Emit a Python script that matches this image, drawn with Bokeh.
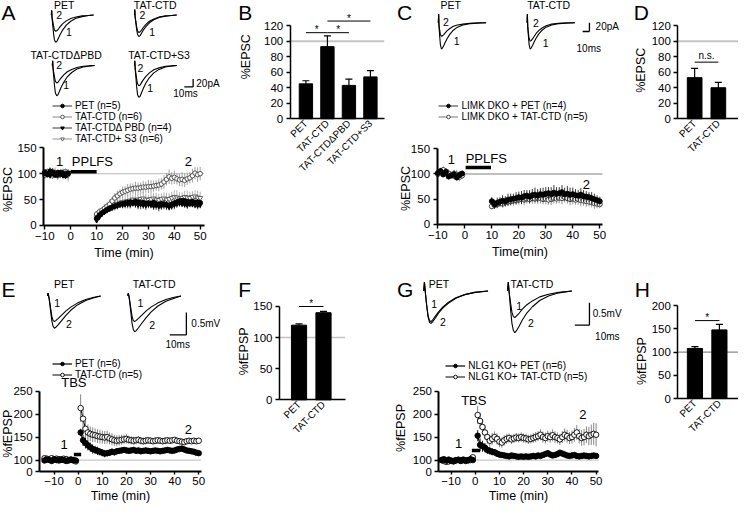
import math
from bokeh.plotting import figure
from bokeh.layouts import row, column
from bokeh.models import (ColumnDataSource, Label, Legend, LegendItem, FixedTicker,
                          Whisker, TeeHead, Range1d, AllLabels)
from bokeh.transform import dodge
from bokeh.embed import file_html
from bokeh.resources import INLINE

FONT = "Liberation Sans"

# ============================ DATA ============================
SCALE_MS = 10
SCALE_PA = 20
SCALE_MV = 0.5

# --- A: EPSC traces (ms, pA)
T_A = [0, 0.4, 0.8, 1.5, 2.5, 3.5, 5, 6.5, 8, 10, 13, 17, 22, 28, 35, 42, 48]
A_PET_1 = [0, 12, -8, -24, -47, -64, -70, -67, -60, -50, -38, -26, -16, -8, -4, -1, 0]
A_PET_2 = [0, 12, -6, -15, -28, -38, -42, -40, -36, -30, -22, -15, -9, -5, -2, -1, 0]
A_TAT_1 = [0, 14, -6, -19, -37, -50, -55, -53, -47, -39, -30, -20, -12, -6, -3, -1, 0]
A_TAT_2 = [0, 14, -5, -15, -30, -41, -45, -43, -39, -32, -24, -16, -10, -5, -2, -1, 0]
A_DPBD_1 = [0, 12, -8, -26, -52, -71, -78, -75, -67, -56, -43, -29, -18, -9, -4, -1, 0]
A_DPBD_2 = [0, 12, -6, -16, -30, -41, -45, -43, -38, -32, -24, -16, -10, -5, -2, -1, 0]
A_S3_1 = [0, 12, -8, -27, -55, -75, -82, -79, -70, -59, -45, -31, -19, -10, -4, -1, 0]
A_S3_2 = [0, 12, -6, -18, -35, -47, -52, -50, -44, -37, -28, -19, -11, -6, -2, -1, 0]

# --- A: time course (%EPSC)
tA_base = list(range(-10, 0))
tA_post = list(range(10, 51))
A_PET_base = [103, 98, 105, 100, 97, 102, 99, 101, 96, 100]
A_PET_base_e = [6, 4, 7, 5, 4, 6, 5, 4, 6, 5]
A_TAT_base = [97, 104, 99, 103, 101, 96, 102, 98, 104, 99]
A_TAT_base_e = [8, 6, 9, 7, 6, 8, 7, 9, 6, 10]
A_DPBD_base = [101, 99, 97, 104, 100, 98, 103, 97, 100, 102]
A_DPBD_base_e = [5, 6, 4, 7, 5, 6, 4, 5, 6, 4]
A_S3_base = [99, 102, 100, 96, 103, 101, 98, 104, 99, 97]
A_S3_base_e = [7, 5, 8, 6, 9, 5, 7, 6, 8, 12]
A_PET_post = [14, 20, 24, 27, 30, 32, 35, 37, 39, 41,
              42, 43, 44, 45, 44, 46, 45, 43, 44, 42,
              43, 42, 44, 41, 40, 42, 41, 40, 39, 41,
              43, 45, 47, 48, 47, 46, 45, 46, 44, 45, 44]
A_PET_post_e = [4, 4, 5, 4, 5, 5, 4, 5, 6, 5, 5, 6, 5, 6, 5, 6, 7, 6, 5, 6,
                6, 5, 6, 7, 6, 5, 6, 7, 6, 5, 6, 5, 6, 5, 6, 5, 4, 5, 6, 5, 4]
A_TAT_post = [22, 26, 29, 33, 37, 41, 47, 53, 57, 61,
              64, 66, 68, 70, 71, 72, 72, 73, 74, 74,
              75, 75, 76, 77, 78, 80, 84, 89, 94, 91,
              93, 90, 88, 89, 87, 90, 92, 96, 101, 98, 100]
A_TAT_post_e = [6, 7, 6, 8, 7, 9, 8, 9, 10, 9, 11, 10, 12, 11, 10, 12, 11, 10, 12, 11,
                13, 12, 11, 10, 12, 11, 13, 12, 14, 12, 13, 11, 12, 14, 13, 12, 11, 13, 12, 14, 13]
A_DPBD_post = [10, 16, 22, 26, 30, 33, 35, 37, 38, 40,
               40, 41, 42, 41, 43, 42, 40, 41, 40, 39,
               41, 40, 38, 39, 37, 38, 40, 38, 36, 38,
               40, 42, 43, 42, 41, 40, 42, 41, 40, 39, 40]
A_DPBD_post_e = [5, 6, 5, 6, 7, 6, 7, 8, 7, 6, 7, 8, 9, 8, 7, 8, 9, 10, 8, 9,
                 8, 7, 8, 9, 10, 8, 9, 8, 7, 8, 9, 8, 7, 6, 7, 8, 7, 6, 7, 8, 7]
A_S3_post = [18, 22, 26, 29, 32, 35, 38, 40, 42, 44,
             45, 46, 47, 48, 50, 49, 50, 51, 52, 50,
             49, 51, 52, 50, 49, 51, 52, 50, 51, 53,
             55, 54, 52, 53, 55, 54, 53, 55, 56, 54, 53]
A_S3_post_e = [6, 7, 8, 7, 8, 9, 10, 9, 8, 10, 11, 10, 12, 11, 10, 12, 11, 13, 12, 11,
               10, 12, 11, 13, 12, 11, 12, 13, 11, 12, 13, 14, 12, 11, 12, 13, 12, 11, 12, 13, 12]

# --- B: bars (%EPSC)
B_cats = ["PET", "TAT-CTD", "TAT-CTDΔPBD", "TAT-CTD+S3"]
B_mean = [45, 93, 43, 54]
B_err = [4, 14, 8, 8]

# --- C: EPSC traces (ms, pA)
T_C = [0, 0.5, 1, 2, 3, 4.5, 6, 8, 10, 13, 17, 22, 28, 36, 46, 58, 70]
C_PET_1 = [0, 20, -10, -30, -50, -60, -58, -52, -45, -36, -26, -17, -10, -5, -2, -1, 0]
C_PET_2 = [0, 20, -6, -17, -27, -31, -30, -27, -23, -18, -13, -8, -5, -3, -1, 0, 0]
C_TAT_1 = [0, 20, -10, -30, -50, -60, -58, -52, -45, -36, -26, -17, -10, -5, -2, -1, 0]
C_TAT_2 = [0, 20, -8, -23, -36, -42, -41, -37, -32, -25, -18, -12, -7, -3, -1, 0, 0]

# --- C: time course
tC_base = list(range(-10, 0))
tC_post = list(range(10, 51))
C_PET_base = [102, 106, 99, 104, 95, 97, 100, 93, 98, 101]
C_PET_base_e = [5, 6, 4, 7, 6, 5, 8, 6, 7, 5]
C_TAT_base = [100, 103, 108, 105, 101, 98, 96, 99, 94, 97]
C_TAT_base_e = [6, 5, 7, 6, 8, 7, 6, 9, 8, 7]
C_PET_post = [46, 40, 43, 45, 47, 46, 49, 50, 51, 52,
              54, 53, 56, 57, 55, 58, 59, 57, 60, 59,
              61, 62, 60, 63, 61, 62, 64, 60, 61, 59,
              60, 58, 57, 59, 56, 55, 54, 52, 50, 48, 46]
C_PET_post_e = [8, 9, 10, 9, 11, 10, 12, 11, 10, 12, 11, 13, 12, 11, 13, 12, 14, 13, 12, 14,
                13, 12, 14, 15, 13, 12, 14, 13, 15, 14, 13, 12, 11, 13, 12, 11, 10, 12, 11, 10, 9]
C_TAT_post = [36, 38, 40, 42, 41, 44, 45, 46, 47, 48,
              49, 50, 49, 51, 50, 52, 51, 53, 52, 50,
              51, 49, 50, 52, 51, 53, 52, 54, 52, 50,
              51, 49, 50, 48, 47, 46, 45, 44, 42, 41, 40]
C_TAT_post_e = [6, 7, 8, 7, 8, 9, 8, 9, 10, 9, 10, 9, 11, 10, 9, 11, 10, 12, 11, 10,
                11, 10, 12, 11, 10, 11, 12, 10, 11, 12, 11, 10, 11, 12, 10, 11, 9, 10, 11, 9, 8]

# --- D: bars
D_cats = ["PET", "TAT-CTD"]
D_mean = [53, 40]
D_err = [12, 7]

# --- E: fEPSP traces (ms, mV)
T_E = [0, 0.4, 1, 1.8, 2.6, 3.4, 4.2, 5, 6.5, 8.5, 11, 14, 18, 23, 28, 32]
E_PET_1 = [0, 0.06, -0.05, -0.25, -0.45, -0.55, -0.57, -0.55, -0.5, -0.43, -0.34, -0.25, -0.16, -0.08, -0.03, 0]
E_PET_2 = [0, 0.06, -0.06, -0.3, -0.55, -0.68, -0.72, -0.7, -0.64, -0.55, -0.44, -0.32, -0.2, -0.1, -0.04, 0]
E_TAT_1 = [0, 0.06, -0.05, -0.25, -0.45, -0.55, -0.57, -0.55, -0.5, -0.43, -0.34, -0.25, -0.16, -0.08, -0.03, 0]
E_TAT_2 = [0, 0.06, -0.07, -0.33, -0.6, -0.75, -0.8, -0.78, -0.71, -0.61, -0.49, -0.36, -0.23, -0.12, -0.05, 0]

# --- E: time course (%fEPSP)
tE_base = list(range(-14, 0))
tE_post = list(range(1, 51))
E_PET_base = [99, 101, 100, 98, 102, 100, 99, 101, 100, 98, 99, 101, 100, 99]
E_PET_base_e = [2, 3, 2, 3, 2, 2, 3, 2, 3, 2, 2, 3, 2, 2]
E_TAT_base = [104, 103, 102, 104, 101, 103, 102, 101, 103, 102, 100, 101, 99, 97]
E_TAT_base_e = [3, 4, 3, 3, 4, 3, 3, 4, 3, 3, 4, 3, 3, 4]
E_PET_post = [160, 143, 137, 132, 128, 124, 122, 120, 118, 116,
              114, 115, 116, 118, 117, 119, 120, 121, 122, 121,
              120, 121, 122, 120, 121, 119, 120, 121, 120, 119,
              120, 121, 120, 119, 120, 121, 122, 121, 120, 121,
              123, 124, 125, 123, 121, 120, 119, 118, 116, 115]
E_PET_post_e = [8, 12, 12, 11, 10, 10, 9, 9, 8, 8, 8, 7, 7, 7, 7, 6, 6, 6, 6, 6,
                6, 6, 5, 5, 6, 5, 5, 6, 5, 5, 6, 5, 5, 6, 5, 5, 6, 5, 5, 5,
                6, 5, 5, 6, 5, 5, 5, 5, 5, 5]
E_TAT_post = [213, 190, 168, 160, 157, 155, 154, 152, 151, 150,
              149, 150, 147, 145, 143, 142, 143, 144, 145, 146,
              144, 143, 142, 143, 144, 142, 141, 142, 143, 142,
              141, 142, 143, 142, 141, 142, 143, 142, 143, 144,
              142, 141, 140, 139, 141, 142, 141, 142, 141, 142]
E_TAT_post_e = [30, 22, 18, 17, 16, 16, 15, 15, 15, 14, 14, 14, 13, 13, 12, 12, 11, 11, 10, 10,
                9, 9, 9, 8, 8, 8, 8, 8, 7, 7, 7, 7, 7, 7, 7, 7, 6, 6, 6, 6,
                6, 6, 6, 6, 6, 6, 6, 6, 6, 6]

# --- F: bars (%fEPSP)
F_cats = ["PET", "TAT-CTD"]
F_mean = [120, 140]
F_err = [2, 2]

# --- G: fEPSP traces (ms, mV)
T_G = [0, 0.5, 1.2, 2, 3, 4, 5, 6, 8, 10, 13, 17, 22, 28, 35, 44]
G_PET_1 = [0, 0.2, -0.05, -0.3, -0.55, -0.66, -0.68, -0.65, -0.56, -0.47, -0.36, -0.25, -0.15, -0.08, -0.03, 0]
G_PET_2 = [0, 0.2, -0.06, -0.32, -0.58, -0.7, -0.72, -0.69, -0.6, -0.5, -0.38, -0.27, -0.16, -0.08, -0.03, 0]
G_TAT_1 = [0, 0.2, -0.05, -0.25, -0.47, -0.57, -0.59, -0.56, -0.49, -0.41, -0.31, -0.22, -0.13, -0.07, -0.03, 0]
G_TAT_2 = [0, 0.2, -0.07, -0.38, -0.72, -0.88, -0.93, -0.89, -0.78, -0.65, -0.5, -0.35, -0.21, -0.11, -0.04, 0]

# --- G: time course
tG_base = list(range(-14, 0))
tG_post = list(range(1, 51))
G_PET_base = [100, 102, 99, 101, 98, 97, 99, 100, 98, 101, 99, 100, 102, 100]
G_PET_base_e = [3, 2, 3, 2, 3, 2, 2, 3, 2, 3, 2, 2, 3, 2]
G_TAT_base = [100, 98, 96, 97, 99, 98, 100, 101, 99, 100, 98, 99, 100, 106]
G_TAT_base_e = [4, 3, 4, 3, 4, 3, 4, 3, 4, 3, 4, 3, 4, 5]
G_PET_post = [153, 133, 130, 127, 122, 120, 118, 117, 114, 112,
              111, 110, 109, 108, 110, 109, 108, 107, 108, 107,
              108, 107, 108, 109, 108, 110, 109, 111, 113, 115,
              112, 110, 111, 113, 116, 114, 112, 110, 109, 110,
              111, 109, 108, 109, 110, 109, 108, 109, 110, 109]
G_PET_post_e = [12, 14, 12, 10, 9, 8, 8, 7, 7, 6, 6, 6, 5, 5, 5, 5, 5, 5, 5, 5,
                5, 5, 5, 5, 5, 5, 5, 5, 5, 6, 5, 5, 5, 5, 6, 5, 5, 5, 5, 5,
                5, 5, 5, 5, 5, 5, 5, 5, 5, 5]
G_TAT_post = [198, 185, 172, 160, 150, 142, 146, 150, 146, 140,
              138, 143, 146, 148, 145, 147, 149, 148, 150, 148,
              147, 145, 146, 148, 150, 152, 155, 150, 148, 152,
              150, 154, 150, 148, 145, 150, 155, 152, 148, 150,
              155, 160, 152, 148, 150, 155, 152, 155, 157, 155]
G_TAT_post_e = [20, 18, 16, 15, 14, 13, 13, 12, 12, 12, 11, 11, 11, 10, 10, 10, 10, 10, 10, 10,
                10, 10, 10, 11, 11, 11, 12, 12, 12, 12, 12, 13, 13, 12, 12, 13, 14, 14, 13, 14,
                15, 16, 16, 17, 18, 18, 20, 22, 24, 25]

# --- H: bars
H_cats = ["PET", "TAT-CTD"]
H_mean = [108, 148]
H_err = [4, 12]

TIME_TICKS = [-10, 0, 10, 20, 30, 40, 50]

# ============================ LAYOUT HELPERS ============================
SX = 738 / 754
SY = 504 / 520
LEG_FIX = 9.5   # legend bottom correction (reference px)


def X(v):
    return v * SX


def Y(v):
    return v * SY


def make_fig(fig_ref, frame_ref, xr, yr, axes=True):
    fx0, fy0 = round(X(fig_ref[0])), round(Y(fig_ref[1]))
    fx1, fy1 = round(X(fig_ref[2])), round(Y(fig_ref[3]))
    g = (fx0, fy0, fx1, fy1)
    if frame_ref is not None:
        gx0, gy0, gx1, gy1 = X(frame_ref[0]), Y(frame_ref[1]), X(frame_ref[2]), Y(frame_ref[3])
        ux = (xr[1] - xr[0]) / (gx1 - gx0)
        uy = (yr[1] - yr[0]) / (gy1 - gy0)
        xfull = (xr[0] - (gx0 - fx0) * ux, xr[1] + (fx1 - gx1) * ux)
        yfull = (yr[0] - (fy1 - gy1) * uy, yr[1] + (gy0 - fy0) * uy)
    else:
        xfull, yfull = xr, yr
    kw = dict(width=fx1 - fx0, height=fy1 - fy0,
              x_range=Range1d(*xfull), y_range=Range1d(*yfull),
              min_border=0, min_border_left=0, min_border_right=0,
              min_border_top=0, min_border_bottom=0,
              output_backend="svg", toolbar_location=None)
    if not axes:
        kw.update(x_axis_location=None, y_axis_location=None)
    p = figure(**kw)
    p.grid.visible = False
    p.outline_line_color = None
    if axes:
        p.xaxis[0].fixed_location = yr[0]
        p.yaxis[0].fixed_location = xr[0]
        p.xaxis[0].bounds = (xr[0], xr[1])
        p.yaxis[0].bounds = (yr[0], yr[1])
    return p, g


def lab(p, g, x, y, text, size="10.5px", align="center", baseline="middle", angle=0.0):
    p.add_layout(Label(x=X(x) - g[0], y=g[3] - Y(y), x_units="screen", y_units="screen",
                       text=text, angle=angle, text_font=FONT, text_font_size=size,
                       text_align=align, text_baseline=baseline, text_color="black"))


def dlab(p, x, y, text, size="13px", align="center", baseline="middle"):
    p.add_layout(Label(x=x, y=y, text=text, text_font=FONT, text_font_size=size,
                       text_align=align, text_baseline=baseline, text_color="black"))


def trace_panel(fig_ref, kx, ky, base_ref, traces, corner, st, sv):
    W = fig_ref[2] - fig_ref[0]
    H = fig_ref[3] - fig_ref[1]
    y_top = (base_ref - fig_ref[1]) / ky
    p, g = make_fig(fig_ref, None, (0, W / kx), (y_top - H / ky, y_top), axes=False)
    for T, V, xr, yr in traces:
        src = ColumnDataSource(dict(t=T, v=V))
        p.line(x=dodge("t", (xr - fig_ref[0]) / kx), y=dodge("v", (base_ref - yr) / ky),
               source=src, line_color="black", line_width=1.1)
    cx = (corner[0] - fig_ref[0]) / kx
    cy = (base_ref - corner[1]) / ky
    p.segment(x0=[cx - st, cx], y0=[cy, cy], x1=[cx, cx], y1=[cy, cy + sv],
              line_color="black", line_width=1.3)
    return p, g


def style_ax(ax, lw=2.0, tick_out=4, size="11.5px", standoff=3):
    ax.axis_line_width = lw
    ax.axis_line_color = "black"
    ax.major_tick_line_width = 1.4
    ax.major_tick_line_color = "black"
    ax.major_tick_out = tick_out
    ax.major_tick_in = 0
    ax.minor_tick_line_color = None
    ax.major_label_text_font = FONT
    ax.major_label_text_font_size = size
    ax.major_label_text_color = "black"
    ax.major_label_standoff = standoff
    ax.major_label_policy = AllLabels()
    ax.axis_label_text_font = FONT
    ax.axis_label_text_font_size = "12.5px"
    ax.axis_label_text_font_style = "normal"
    ax.axis_label_text_color = "black"
    ax.axis_label_standoff = 2


def tc_axes(p, yticks, xlabel, yover=None, compact=False):
    xa, ya = p.xaxis[0], p.yaxis[0]
    style_ax(xa, tick_out=3 if compact else 4, standoff=2 if compact else 3)
    style_ax(ya)
    xa.ticker = FixedTicker(ticks=TIME_TICKS)
    ya.ticker = FixedTicker(ticks=yticks)
    if yover:
        ya.major_label_overrides = yover
    xa.axis_label = xlabel
    if compact:
        xa.axis_label_standoff = 1


def ref_line(p, xr, color, width):
    p.segment(x0=[xr[0]], y0=[100], x1=[xr[1]], y1=[100], line_color=color, line_width=width)


def timecourse(p, tb, mb, eb, tp, mp, ep, marker, size, fill, mcolor, lcolor, ecolor, lw=1.0):
    t = list(tb) + list(tp)
    m = list(mb) + list(mp)
    e = list(eb) + list(ep)
    src = ColumnDataSource(dict(t=t, m=m,
                                lo=[a - b for a, b in zip(m, e)],
                                hi=[a + b for a, b in zip(m, e)]))
    p.segment(x0="t", y0="lo", x1="t", y1="hi", source=src, line_color=ecolor, line_width=0.9)
    ln = p.multi_line(xs=[list(tb), list(tp)], ys=[list(mb), list(mp)],
                      line_color=lcolor, line_width=lw)
    sc = p.scatter(x="t", y="m", source=src, marker=marker, size=size,
                   fill_color=fill, line_color=mcolor, line_width=0.9)
    return [ln, sc]


def add_legend(p, g, entries, x_ref, bottom_ref):
    items = [LegendItem(label=t, renderers=rs) for t, rs in entries]
    leg = Legend(items=items,
                 location=(X(x_ref) - g[0], g[3] - Y(bottom_ref + LEG_FIX)),
                 orientation="vertical", border_line_color=None, background_fill_alpha=0,
                 padding=0, margin=0, spacing=-3, glyph_width=20, glyph_height=9,
                 label_height=9, label_standoff=3, label_text_font=FONT,
                 label_text_font_size="10px", label_text_color="black")
    p.add_layout(leg)


def bar_panel(fig_ref, frame_ref, xr, yr, ytop, yticks, cats, means, errs, gray, gray_w, sigs):
    p, g = make_fig(fig_ref, frame_ref, xr, yr)
    idx = list(range(len(cats)))
    src = ColumnDataSource(dict(x=idx, top=means, upper=[m + e for m, e in zip(means, errs)]))
    ref_line(p, xr, gray, gray_w)
    p.vbar(x="x", top="top", width=0.62, source=src, fill_color="black", line_color="black")
    p.add_layout(Whisker(source=src, base="x", lower="top", upper="upper", line_color="black",
                         line_width=1.2, lower_head=None, level="glyph",
                         upper_head=TeeHead(size=7, line_color="black", line_width=1.2)))
    xa, ya = p.xaxis[0], p.yaxis[0]
    style_ax(xa, lw=1.5, tick_out=0, size="10px", standoff=3)
    style_ax(ya, lw=1.5, tick_out=4, size="11.5px", standoff=3)
    xa.ticker = FixedTicker(ticks=idx)
    xa.major_label_overrides = {i: c for i, c in enumerate(cats)}
    xa.major_label_orientation = math.pi / 4
    ya.ticker = FixedTicker(ticks=yticks)
    ya.bounds = (0, ytop)
    for i, j, lvl, txt in sigs:
        p.segment(x0=[i], y0=[lvl], x1=[j], y1=[lvl], line_color="black", line_width=1)
        p.add_layout(Label(x=(i + j) / 2, y=lvl, text=txt, text_font=FONT,
                           text_font_size="10px", text_align="center",
                           text_baseline="middle" if txt == "*" else "bottom",
                           y_offset=3 if txt == "*" else 1, text_color="black"))
    return p, g


# ============================ PANEL A ============================
pAt, gAt = trace_panel((0, 0, 225, 102), 0.9, 0.4, 15,
                       [(T_A, A_PET_1, 52, 15), (T_A, A_PET_2, 52, 15),
                        (T_A, A_TAT_1, 137, 15), (T_A, A_TAT_2, 137, 15),
                        (T_A, A_DPBD_1, 53, 67), (T_A, A_DPBD_2, 53, 67),
                        (T_A, A_S3_1, 137, 67), (T_A, A_S3_2, 137, 67)],
                       (197, 89), SCALE_MS, SCALE_PA)
lab(pAt, gAt, 1, 1, "A", "21px", "left", "top")
lab(pAt, gAt, 65, 5, "PET")
lab(pAt, gAt, 158, 5, "TAT-CTD")
lab(pAt, gAt, 67, 56, "TAT-CTDΔPBD")
lab(pAt, gAt, 162, 56, "TAT-CTD+S3")
for (x, y, s) in [(60, 15, "2"), (70, 33, "1"), (145, 15, "2"), (155, 33, "1"),
                  (60, 67, "2"), (67, 87, "1"), (143, 70, "2"), (153, 90, "1")]:
    lab(pAt, gAt, x, y, s)
lab(pAt, gAt, 200, 86, "20pA", "10px", "left")
lab(pAt, gAt, 189, 95.5, "10ms", "10px")

XR_A, YR_A = (-10.5, 51.5), (0, 150)
pA, gA = make_fig((0, 102, 225, 282), (44, 152, 208, 232), XR_A, YR_A)
tc_axes(pA, [0, 50, 100, 150], "Time (min)")
ref_line(pA, XR_A, "#c8c8c8", 1.3)
rA_S3 = timecourse(pA, tA_base, A_S3_base, A_S3_base_e, tA_post, A_S3_post, A_S3_post_e,
                   "inverted_triangle", 5, "white", "#555555", "#777777", "#aaaaaa", 0.8)
rA_TAT = timecourse(pA, tA_base, A_TAT_base, A_TAT_base_e, tA_post, A_TAT_post, A_TAT_post_e,
                    "circle", 4.5, "white", "#444444", "#666666", "#999999", 0.8)
rA_DP = timecourse(pA, tA_base, A_DPBD_base, A_DPBD_base_e, tA_post, A_DPBD_post, A_DPBD_post_e,
                   "inverted_triangle", 5, "black", "black", "black", "#333333", 0.8)
rA_PET = timecourse(pA, tA_base, A_PET_base, A_PET_base_e, tA_post, A_PET_post, A_PET_post_e,
                    "circle", 4.5, "black", "black", "black", "#222222", 0.8)
pA.segment(x0=[0], y0=[103.5], x1=[10], y1=[103.5], line_color="black", line_width=3.5,
           line_cap="butt")
dlab(pA, -4.3, 124, "1")
dlab(pA, 0.4, 124, "PPLFS", align="left")
dlab(pA, 45.4, 124, "2")
add_legend(pA, gA, [("PET (n=5)", rA_PET), ("TAT-CTD (n=6)", rA_TAT),
                    ("TAT-CTDΔ PBD (n=4)", rA_DP), ("TAT-CTD+ S3 (n=6)", rA_S3)], 53, 139.5)
lab(pA, gA, 8, 195, "%EPSC", "12.5px", angle=math.pi / 2)

# ============================ PANEL B ============================
pB, gB = bar_panel((225, 0, 400, 282), (296, 14, 392, 122), (-0.73, 3.64), (0, 135), 120,
                   [0, 20, 40, 60, 80, 100, 120], B_cats, B_mean, B_err, "#c4c4c4", 2,
                   [(0, 1, 111, "*"), (1, 2, 111, "*"), (1, 3, 126, "*")])
lab(pB, gB, 243, 1, "B", "21px", "left", "top")
lab(pB, gB, 251, 58, "%EPSC", "12.5px", angle=math.pi / 2)

# ============================ PANEL C ============================
pCt, gCt = trace_panel((400, 0, 640, 65), 0.7, 0.45, 23,
                       [(T_C, C_PET_1, 447, 23), (T_C, C_PET_2, 447, 23),
                        (T_C, C_TAT_1, 538, 23), (T_C, C_TAT_2, 538, 23)],
                       (602, 32), SCALE_MS, SCALE_PA)
lab(pCt, gCt, 405, 1, "C", "21px", "left", "top")
lab(pCt, gCt, 460, 5, "PET")
lab(pCt, gCt, 560, 5, "TAT-CTD")
for (x, y, s) in [(455, 22, "2"), (466, 42, "1"), (547, 23, "2"), (557, 44, "1")]:
    lab(pCt, gCt, x, y, s)
lab(pCt, gCt, 608, 27, "20pA", "10px", "left")
lab(pCt, gCt, 601, 50, "10ms", "10px")

XR_C, YR_C = (-10.3, 51), (0, 150)
pC, gC = make_fig((400, 65, 640, 282), (446, 153, 615, 231), XR_C, YR_C)
tc_axes(pC, [0, 50, 100, 150], "Time(min)")
ref_line(pC, XR_C, "#808080", 1.2)
rC_TAT = timecourse(pC, tC_base, C_TAT_base, C_TAT_base_e, tC_post, C_TAT_post, C_TAT_post_e,
                    "circle", 5, "white", "#333333", "#555555", "#888888", 0.8)
rC_PET = timecourse(pC, tC_base, C_PET_base, C_PET_base_e, tC_post, C_PET_post, C_PET_post_e,
                    "circle", 5, "black", "black", "black", "#222222", 0.8)
pC.segment(x0=[0.3], y0=[113], x1=[9.7], y1=[113], line_color="black", line_width=3.5,
           line_cap="butt")
dlab(pC, -5, 129, "1")
dlab(pC, 0.3, 131, "PPLFS", align="left")
dlab(pC, 45, 80, "2")
add_legend(pC, gC, [("LIMK DKO + PET (n=4)", rC_PET),
                    ("LIMK DKO + TAT-CTD (n=5)", rC_TAT)], 448, 116.5)
lab(pC, gC, 414, 194, "%EPSC", "12.5px", angle=math.pi / 2)

# ============================ PANEL D ============================
pD, gD = bar_panel((640, 0, 754, 282), (692, 14, 754, 122), (-0.71, 1.85), (0, 135), 120,
                   [0, 20, 40, 60, 80, 100, 120], D_cats, D_mean, D_err, "#c4c4c4", 2,
                   [(0, 1, 73, "n.s.")])
lab(pD, gD, 647, 1, "D", "21px", "left", "top")
lab(pD, gD, 654, 72, "%EPSC", "12.5px", angle=math.pi / 2)

# ============================ PANEL E ============================
pEt, gEt = trace_panel((0, 282, 230, 362), 1.7, 46, 305,
                       [(T_E, E_PET_1, 48, 305), (T_E, E_PET_2, 48, 305),
                        (T_E, E_TAT_1, 130, 305), (T_E, E_TAT_2, 130, 305)],
                       (190, 345), SCALE_MS, SCALE_MV)
lab(pEt, gEt, 1, 286, "E", "21px", "left", "top")
lab(pEt, gEt, 65, 292, "PET")
lab(pEt, gEt, 157, 292, "TAT-CTD")
for (x, y, s) in [(58, 312, "1"), (70, 334, "2"), (143, 312, "1"), (155, 335, "2")]:
    lab(pEt, gEt, x, y, s)
lab(pEt, gEt, 195, 333, "0.5mV", "10px", "left")
lab(pEt, gEt, 181, 355, "10ms", "10px")

XR_E, YR_E = (-16, 51), (75, 250)
pE, gE = make_fig((0, 362, 230, 520), (40, 403, 205, 486), XR_E, YR_E)
tc_axes(pE, [75, 100, 150, 200, 250], "Time (min)", {75: "0"}, compact=True)
ref_line(pE, (-1, 51), "#c8c8c8", 1.3)
rE_TAT = timecourse(pE, tE_base, E_TAT_base, E_TAT_base_e, tE_post, E_TAT_post, E_TAT_post_e,
                    "circle", 5.5, "white", "black", "black", "#777777", 1.0)
rE_PET = timecourse(pE, tE_base, E_PET_base, E_PET_base_e, tE_post, E_PET_post, E_PET_post_e,
                    "circle", 5.5, "black", "black", "black", "black", 1.2)
pE.segment(x0=[-1.8], y0=[112], x1=[1.2], y1=[112], line_color="black", line_width=3.5,
           line_cap="butt")
dlab(pE, -1.8, 269, "TBS")
dlab(pE, -5.8, 133, "1")
dlab(pE, 45.7, 167, "2")
add_legend(pE, gE, [("PET (n=6)", rE_PET), ("TAT-CTD (n=5)", rE_TAT)], 53, 382.5)
lab(pE, gE, 7.5, 447, "%fEPSP", "12.5px", angle=math.pi / 2)

# ============================ PANEL F ============================
pF, gF = bar_panel((230, 282, 400, 520), (285, 308, 352, 412), (-0.8, 1.88), (0, 162), 150,
                   [0, 50, 100, 150], F_cats, F_mean, F_err, "#c4c4c4", 1.5,
                   [(0, 1, 150, "*")])
lab(pF, gF, 243, 286, "F", "21px", "left", "top")
lab(pF, gF, 249, 362, "%fEPSP", "12.5px", angle=math.pi / 2)

# ============================ PANEL G ============================
pGt, gGt = trace_panel((400, 282, 640, 362), 1.5, 46, 300,
                       [(T_G, G_PET_1, 432, 300), (T_G, G_PET_2, 432, 300),
                        (T_G, G_TAT_1, 518, 300), (T_G, G_TAT_2, 518, 300)],
                       (602, 335), SCALE_MS, SCALE_MV)
lab(pGt, gGt, 405, 286, "G", "21px", "left", "top")
lab(pGt, gGt, 448, 292, "PET")
lab(pGt, gGt, 543, 292, "TAT-CTD")
for (x, y, s) in [(443, 313, "1"), (452, 332, "2"), (530, 315, "1"), (542, 333, "2")]:
    lab(pGt, gGt, x, y, s)
lab(pGt, gGt, 605, 323, "0.5mV", "10px", "left")
lab(pGt, gGt, 620, 347, "10ms", "10px")

XR_G, YR_G = (-15, 51), (75, 250)
pG, gG = make_fig((400, 362, 640, 520), (448, 403, 611, 486), XR_G, YR_G)
tc_axes(pG, [75, 100, 150, 200, 250], "Time (min)", {75: "0"}, compact=True)
ref_line(pG, (-1, 51), "#c8c8c8", 1.3)
rG_TAT = timecourse(pG, tG_base, G_TAT_base, G_TAT_base_e, tG_post, G_TAT_post, G_TAT_post_e,
                    "circle", 5.5, "white", "black", "black", "#777777", 1.0)
rG_PET = timecourse(pG, tG_base, G_PET_base, G_PET_base_e, tG_post, G_PET_post, G_PET_post_e,
                    "circle", 5.5, "black", "black", "black", "black", 1.2)
pG.segment(x0=[-1.4], y0=[121], x1=[2.0], y1=[121], line_color="black", line_width=3.5,
           line_cap="butt")
dlab(pG, -0.6, 229, "TBS")
dlab(pG, -6.9, 137, "1")
dlab(pG, 44.5, 200, "2")
add_legend(pG, gG, [("NLG1 KO+ PET (n=6)", rG_PET), ("NLG1 KO+ TAT-CTD (n=5)", rG_TAT)],
           455, 384.5)
lab(pG, gG, 409, 441, "%fEPSP", "12.5px", angle=math.pi / 2)

# ============================ PANEL H ============================
pH, gH = bar_panel((640, 282, 754, 520), (692, 311.6, 754, 410.7), (-0.7, 1.78), (0, 207), 200,
                   [0, 50, 100, 150, 200], H_cats, H_mean, H_err, "#8a8a8a", 1.2,
                   [(0, 1, 168, "*")])
lab(pH, gH, 648, 286, "H", "21px", "left", "top")
lab(pH, gH, 655, 372, "%fEPSP", "12.5px", angle=math.pi / 2)

# ============================ ASSEMBLE ============================
top = row(column(pAt, pA), pB, column(pCt, pC), pD)
bottom = row(column(pEt, pE), pF, column(pGt, pG), pH)
page = column(top, bottom)

open("out.html", "w").write(file_html(page, INLINE))
